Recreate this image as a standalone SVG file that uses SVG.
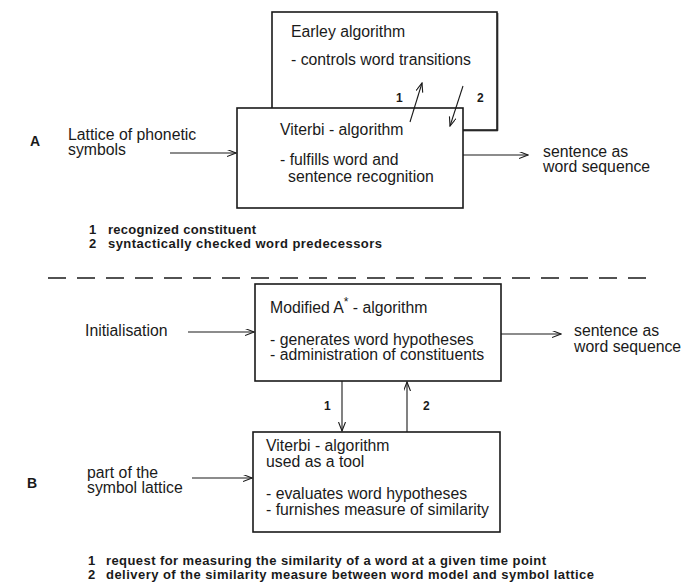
<svg xmlns="http://www.w3.org/2000/svg" width="683" height="582" viewBox="0 0 683 582">
<style>
.box{fill:#fff;stroke:#1a1a1a;stroke-width:1.6}
.t{font-family:"Liberation Sans",Arial,sans-serif;font-size:15.8px;fill:#1a1a1a}
.lg{font-family:"Liberation Sans",Arial,sans-serif;font-size:13px;font-weight:bold;fill:#1a1a1a}
.n{font-family:"Liberation Sans",Arial,sans-serif;font-size:12px;font-weight:bold;fill:#1a1a1a}
.lbl{font-family:"Liberation Sans",Arial,sans-serif;font-size:14px;font-weight:bold;fill:#1a1a1a}
.c{fill:none;stroke:#1a1a1a;stroke-width:1.1;marker-end:url(#ah)}
</style>
<defs>
<marker id="ah" markerUnits="userSpaceOnUse" markerWidth="10" markerHeight="8" refX="9" refY="3.5" orient="auto">
<path d="M0,0 L9,3.5 L0,7" fill="none" stroke="#1a1a1a" stroke-width="1.1"/>
</marker>
</defs>
<rect width="683" height="582" fill="#fff"/>
<text class="lbl" x="30" y="146">A</text>
<text class="lbl" x="27" y="488">B</text>
<g id="earley">
<rect class="box" x="272" y="12" width="225" height="118"/>
<path d="M497.8,13 V130.8 H463" fill="none" stroke="#1a1a1a" stroke-width="1"/>
<text class="t" x="291" y="37">Earley algorithm</text>
<text class="t" x="291" y="65">- controls word transitions</text>
</g>
<g id="viterbiA">
<rect class="box" x="237" y="108" width="226" height="100"/>
<text class="t" x="280" y="135">Viterbi - algorithm</text>
<text class="t" x="280" y="165">- fulfills word and</text>
<text class="t" x="288" y="182">sentence recognition</text>
</g>
<g id="inA">
<text class="t" x="68" y="140">Lattice of phonetic</text>
<text class="t" x="68" y="155">symbols</text>
</g>
<g id="outA">
<text class="t" x="543" y="157">sentence as</text>
<text class="t" x="543" y="172">word sequence</text>
</g>
<g id="legendA">
<text class="lg" x="89" y="234">1</text>
<text class="lg" x="108" y="234" textLength="148">recognized constituent</text>
<text class="lg" x="89" y="248">2</text>
<text class="lg" x="108" y="248" textLength="274">syntactically checked word predecessors</text>
</g>
<line x1="48" y1="278" x2="652" y2="278" stroke="#1a1a1a" stroke-width="1.3" stroke-dasharray="18 11"/>
<g id="astar">
<rect class="box" x="255" y="284" width="246" height="97"/>
<text class="t" x="270" y="313">Modified A<tspan dy="-7" font-size="12">*</tspan><tspan dy="7"> - algorithm</tspan></text>
<text class="t" x="270" y="345">- generates word hypotheses</text>
<text class="t" x="270" y="360">- administration of constituents</text>
</g>
<g id="viterbiB">
<rect class="box" x="253" y="432" width="247" height="100"/>
<text class="t" x="266" y="451">Viterbi - algorithm</text>
<text class="t" x="266" y="467">used as a tool</text>
<text class="t" x="266" y="499">- evaluates word hypotheses</text>
<text class="t" x="266" y="515">- furnishes measure of similarity</text>
</g>
<g id="inB1"><text class="t" x="85" y="336">Initialisation</text></g>
<g id="outB">
<text class="t" x="574" y="336">sentence as</text>
<text class="t" x="574" y="352">word sequence</text>
</g>
<g id="inB2">
<text class="t" x="87" y="478">part of the</text>
<text class="t" x="87" y="493">symbol lattice</text>
</g>
<g id="legendB">
<text class="lg" x="88" y="565">1</text>
<text class="lg" x="106" y="565" textLength="440">request for measuring the similarity of a word at a given time point</text>
<text class="lg" x="88" y="579">2</text>
<text class="lg" x="106" y="579" textLength="488">delivery of the similarity measure between word model and symbol lattice</text>
</g>
<g id="connectors">
<line class="c" x1="170" y1="153" x2="236" y2="153"/>
<line class="c" x1="463" y1="155" x2="528" y2="155"/>
<line class="c" x1="410" y1="122" x2="422" y2="83"/>
<line class="c" x1="463" y1="86" x2="450" y2="126"/>
<text class="n" x="396" y="102">1</text>
<text class="n" x="477" y="102">2</text>
<line class="c" x1="188" y1="332" x2="254" y2="332"/>
<line class="c" x1="501" y1="334" x2="561" y2="334"/>
<line class="c" x1="342" y1="381" x2="342" y2="431"/>
<line class="c" x1="407" y1="432" x2="407" y2="382"/>
<text class="n" x="324" y="410">1</text>
<text class="n" x="423" y="410">2</text>
<line class="c" x1="192" y1="478" x2="252" y2="478"/>
</g>
</svg>
